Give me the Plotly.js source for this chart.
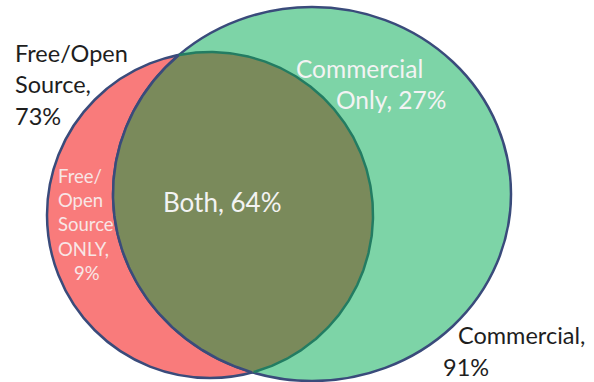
<!DOCTYPE html>
<html>
<head>
<meta charset="utf-8">
<script src="https://cdn.plot.ly/plotly-3.0.1.min.js"></script>
<style>html,body{margin:0;padding:0;background:#fff;}#chart{width:594px;height:382px;}</style>
</head>
<body>
<div id="chart"></div>
<script>
// ---- data ----
var setNames = ["Free/Open Source", "Commercial"];
var setTotals = [73, 91];
var regionNames = ["Free/Open Source ONLY", "Both", "Commercial Only"];
var regionValues = [9, 64, 27];

// ---- geometry (pixel-like data coords) ----
var redC = {cx: 210, cy: 215, rx: 163, ry: 163};
var greenC = {cx: 312, cy: 194, rx: 199, ry: 187};

var RED = "#F97B7B", GREEN = "#7DD4A7", OLIVE = "#7A8A5B", NAVY = "#3A4B7B", TEAL = "#237C62";

function inside(e, x, y) {
  var dx = (x - e.cx) / e.rx, dy = (y - e.cy) / e.ry;
  return dx * dx + dy * dy <= 1;
}
function arcInside(a, b) {
  var N = 720, pts = [];
  for (var i = 0; i < N; i++) {
    var t = 2 * Math.PI * i / N;
    var x = a.cx + a.rx * Math.cos(t), y = a.cy + a.ry * Math.sin(t);
    pts.push({x: x, y: y, in: inside(b, x, y)});
  }
  var s = 0;
  while (pts[s].in) s++;
  var out = {x: [], y: []};
  for (var k = 0; k < N; k++) {
    var p = pts[(s + k) % N];
    if (p.in) { out.x.push(p.x); out.y.push(p.y); }
  }
  return out;
}
var gArc = arcInside(greenC, redC);
var rArc = arcInside(redC, greenC);
var lens = {x: gArc.x.concat(rArc.x), y: gArc.y.concat(rArc.y)};

var traces = [
  {x: lens.x, y: lens.y, mode: "lines", fill: "toself", fillcolor: OLIVE, line: {width: 0, color: OLIVE}, hoverinfo: "skip", showlegend: false},
  {x: gArc.x, y: gArc.y, mode: "lines", line: {width: 2.5, color: NAVY}, hoverinfo: "skip", showlegend: false},
  {x: rArc.x, y: rArc.y, mode: "lines", line: {width: 2.5, color: TEAL}, hoverinfo: "skip", showlegend: false}
];

var shapes = [
  {type: "circle", xref: "x", yref: "y", layer: "below", x0: redC.cx - redC.rx, x1: redC.cx + redC.rx, y0: redC.cy - redC.ry, y1: redC.cy + redC.ry, fillcolor: RED, line: {color: NAVY, width: 2.5}},
  {type: "circle", xref: "x", yref: "y", layer: "below", x0: greenC.cx - greenC.rx, x1: greenC.cx + greenC.rx, y0: greenC.cy - greenC.ry, y1: greenC.cy + greenC.ry, fillcolor: GREEN, line: {color: NAVY, width: 2.5}}
];

var FONT = "Lato, 'Open Sans', sans-serif";
function ann(text, x, y, size, color, anchor) {
  return {text: text, x: x, y: y, xref: "x", yref: "y", showarrow: false, xanchor: anchor || "left", yanchor: "middle",
          font: {family: FONT, size: size, color: color}};
}
var freeParts = setNames[0].split(" ");
var DARK = "#1E1E1E", LIGHT = "#F3F3F3", PINKW = "#F8E6E6";
var annotations = [
  ann(freeParts[0], 13, 53, 23.5, DARK),
  ann(freeParts[1] + ",", 13, 84, 23.5, DARK),
  ann(setTotals[0] + "%", 13, 116, 23.5, DARK),
  ann(setNames[1] + ",", 456, 335, 23.5, DARK),
  ann(setTotals[1] + "%", 441, 367, 23.5, DARK),
  ann(regionNames[2].split(" ")[0], 294, 68, 24.5, LIGHT),
  ann(regionNames[2].split(" ")[1] + ", " + regionValues[2] + "%", 334, 99, 24.5, LIGHT),
  ann(regionNames[1] + ", " + regionValues[1] + "%", 161, 202, 26, LIGHT),
  ann("Free/", 56, 176, 18.5, PINKW),
  ann("Open", 56, 200, 18.5, PINKW),
  ann("Source", 56, 224, 18.5, PINKW),
  ann("ONLY,", 56, 249, 18.5, PINKW),
  ann(regionValues[0] + "%", 72, 273, 18.5, PINKW)
];

var layout = {
  width: 594, height: 382,
  margin: {l: 0, r: 0, t: 0, b: 0},
  paper_bgcolor: "#fff", plot_bgcolor: "#fff",
  xaxis: {range: [0, 594], visible: false, fixedrange: true},
  yaxis: {range: [382, 0], visible: false, fixedrange: true},
  shapes: shapes,
  annotations: annotations,
  showlegend: false
};
Plotly.newPlot("chart", traces, layout, {displayModeBar: false, staticPlot: true});
</script>
</body>
</html>
